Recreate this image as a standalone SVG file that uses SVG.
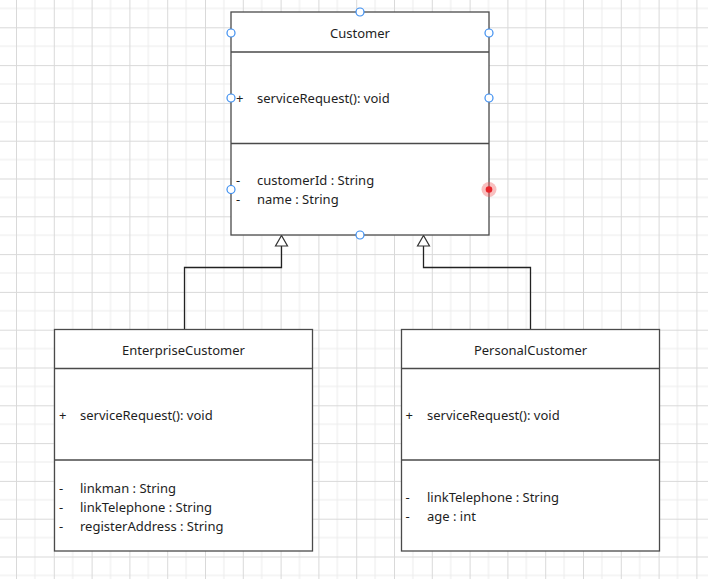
<svg xmlns="http://www.w3.org/2000/svg" width="708" height="579" viewBox="0 0 708 579">
  <defs>
    <pattern id="grid" x="16" y="27.3" width="37.8" height="37.8" patternUnits="userSpaceOnUse">
      <path d="M18.9 0V37.8M0 18.9H37.8" stroke="#ececec" stroke-width="1" fill="none"/>
      <path d="M0.5 0V37.8M0 0.5H37.8" stroke="#d9d9d9" stroke-width="1" fill="none"/>
    </pattern>
    <style>
      .box { fill: #ffffff; stroke: #4a4a4a; stroke-width: 1.3; }
      .div { stroke: #4a4a4a; stroke-width: 1.3; }
      .t { font-family: "Noto Sans", "Liberation Sans", sans-serif; font-size: 13px; fill: #1e1e1e; }
      .c { text-anchor: middle; }
      .edge { fill: none; stroke: #222222; stroke-width: 1.3; }
      .tri { fill: #ffffff; stroke: #333333; stroke-width: 1.2; }
      .h { fill: #ffffff; stroke: #3d8ef0; stroke-width: 1.2; }
    </style>
  </defs>
  <rect x="0" y="0" width="708" height="579" fill="#ffffff"/>
  <rect x="0" y="0" width="708" height="579" fill="url(#grid)"/>

  <g id="connectors">
    <polyline class="edge" points="184.5,330 184.5,267.5 281.5,267.5 281.5,246"/>
    <polygon class="tri" points="281.5,235.5 275.5,246 287.5,246"/>
    <polyline class="edge" points="530.5,330 530.5,267.5 423.5,267.5 423.5,246"/>
    <polygon class="tri" points="423.5,235.5 417.5,246 429.5,246"/>
  </g>

  <g id="Customer">
    <rect class="box" x="231" y="12" width="258" height="223"/>
    <line class="div" x1="231" y1="52" x2="489" y2="52"/>
    <line class="div" x1="231" y1="143.5" x2="489" y2="143.5"/>
    <text class="t c" x="360" y="38">Customer</text>
    <text class="t" x="236" y="103">+</text>
    <text class="t" x="257" y="103">serviceRequest(): void</text>
    <text class="t" x="236" y="185">-</text>
    <text class="t" x="257" y="185">customerId : String</text>
    <text class="t" x="236" y="204">-</text>
    <text class="t" x="257" y="204">name : String</text>
  </g>

  <g id="EnterpriseCustomer">
    <rect class="box" x="54.5" y="329.5" width="258" height="221.5"/>
    <line class="div" x1="54.5" y1="368.5" x2="312.5" y2="368.5"/>
    <line class="div" x1="54.5" y1="460" x2="312.5" y2="460"/>
    <text class="t c" x="183.5" y="354.5">EnterpriseCustomer</text>
    <text class="t" x="59" y="420">+</text>
    <text class="t" x="80" y="420">serviceRequest(): void</text>
    <text class="t" x="59" y="492.5">-</text>
    <text class="t" x="80" y="492.5">linkman : String</text>
    <text class="t" x="59" y="511.5">-</text>
    <text class="t" x="80" y="511.5">linkTelephone : String</text>
    <text class="t" x="59" y="530.5">-</text>
    <text class="t" x="80" y="530.5">registerAddress : String</text>
  </g>

  <g id="PersonalCustomer">
    <rect class="box" x="401.5" y="329.5" width="258" height="221.5"/>
    <line class="div" x1="401.5" y1="368.5" x2="659.5" y2="368.5"/>
    <line class="div" x1="401.5" y1="460" x2="659.5" y2="460"/>
    <text class="t c" x="530.5" y="354.5">PersonalCustomer</text>
    <text class="t" x="405.5" y="420">+</text>
    <text class="t" x="427" y="420">serviceRequest(): void</text>
    <text class="t" x="405.5" y="501.5">-</text>
    <text class="t" x="427" y="501.5">linkTelephone : String</text>
    <text class="t" x="405.5" y="520.5">-</text>
    <text class="t" x="427" y="520.5">age : int</text>
  </g>

  <g id="handles">
    <circle class="h" cx="360" cy="12" r="4"/>
    <circle class="h" cx="231" cy="33" r="4"/>
    <circle class="h" cx="489" cy="33" r="4"/>
    <circle class="h" cx="231" cy="98" r="4"/>
    <circle class="h" cx="489" cy="98" r="4"/>
    <circle class="h" cx="231" cy="189.5" r="4"/>
    <circle class="h" cx="360" cy="235" r="4"/>
    <circle cx="489" cy="189.5" r="7.5" fill="#f06060" fill-opacity="0.4"/>
    <circle cx="489" cy="189.5" r="3.3" fill="#e8242a"/>
  </g>
</svg>
